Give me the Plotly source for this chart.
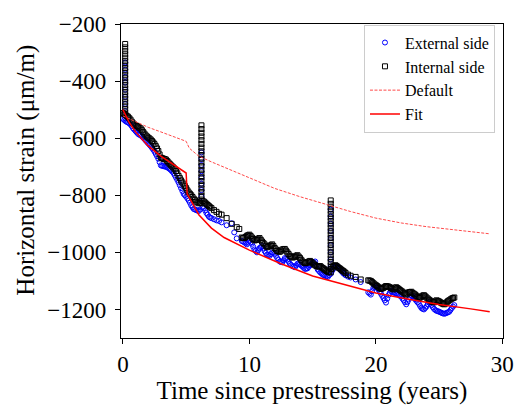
import plotly.graph_objects as go

# Internal side gauge readings (years, µm/m)
internal_t = [
    0.0, 0.1, 0.2, 0.3, 0.4, 0.5, 0.6, 0.7, 0.8, 0.9,
    1.0, 1.1, 1.2, 1.3, 1.4, 1.5, 1.6, 1.7, 1.8, 1.9,
    2.0, 2.1, 2.2, 2.3, 2.4, 2.5, 2.6, 2.7, 2.8, 2.9,
    3.0, 3.1, 3.2, 3.3, 3.4, 3.5, 3.6, 3.7, 3.8, 3.9,
    4.0, 4.1, 4.2, 4.3, 4.4, 4.5, 4.6, 4.7, 4.8, 4.9,
    5.0, 5.1, 5.2, 5.3, 5.4, 5.5, 5.6, 5.7, 5.8, 5.9,
    6.0, 6.1, 6.3, 6.4, 6.5, 6.6, 6.7, 6.8, 6.9,
    7.0, 7.2, 7.4, 7.6, 7.8, 8.2, 8.6, 9.0, 9.2, 9.4, 9.5, 9.6, 9.7,
    9.8, 9.9, 10.0, 10.1, 10.2, 10.3, 10.4, 10.5, 10.6, 10.7, 10.8, 10.9,
    11.0, 11.1, 11.2, 11.3, 11.4, 11.5, 11.6, 11.7, 11.8, 11.9,
    12.0, 12.1, 12.2, 12.3, 12.4, 12.5, 12.6, 12.7, 12.8, 12.9,
    13.0, 13.1, 13.2, 13.3, 13.4, 13.5, 13.6, 13.7, 13.8, 13.9,
    14.0, 14.1, 14.2, 14.3, 14.4, 14.5, 14.6, 14.7, 14.8, 14.9,
    15.0, 15.1, 15.2, 15.3, 15.4, 15.5, 15.6, 15.7, 15.8, 15.9,
    16.0, 16.1, 16.2, 16.3, 16.5, 16.6, 16.7, 16.8, 16.9,
    17.0, 17.1, 17.2, 17.3, 17.4, 17.5, 17.6, 17.8, 18.0, 18.4, 18.8,
    19.4, 19.5, 19.6, 19.7, 19.8, 19.9,
    20.0, 20.1, 20.2, 20.3, 20.4, 20.5, 20.6, 20.7, 20.8, 20.9,
    21.0, 21.1, 21.2, 21.3, 21.4, 21.5, 21.6, 21.7, 21.8, 21.9,
    22.0, 22.1, 22.2, 22.3, 22.4, 22.5, 22.6, 22.7, 22.8, 22.9,
    23.0, 23.1, 23.2, 23.3, 23.4, 23.5, 23.6, 23.7, 23.8, 23.9,
    24.0, 24.1, 24.2, 24.3, 24.4, 24.5, 24.6, 24.7, 24.8, 24.9,
    25.0, 25.1, 25.2, 25.3, 25.4, 25.5, 25.6, 25.7, 25.8, 25.9, 26.0, 26.1, 26.2,
]
internal_v = [
    -512, -515, -518, -522, -525, -530, -535, -542, -548, -552,
    -555, -557, -560, -563, -566, -572, -578, -584, -590, -594,
    -598, -601, -605, -610, -615, -621, -628, -636, -645, -657,
    -668, -670, -672, -673, -675, -680, -685, -690, -695, -699,
    -703, -709, -715, -723, -732, -740, -748, -755, -762, -768,
    -775, -783, -790, -795, -800, -806, -812, -817, -822, -825,
    -828, -826, -820, -822, -826, -830, -834, -838, -842,
    -845, -852, -858, -865, -868, -880, -900, -912, -918, -948, -950, -950, -946,
    -942, -940, -938, -943, -948, -953, -958, -957, -955, -952, -950, -956,
    -962, -967, -972, -977, -982, -980, -978, -975, -972, -978,
    -985, -990, -995, -997, -998, -994, -990, -989, -988, -994,
    -1000, -1006, -1012, -1015, -1018, -1017, -1015, -1012, -1010, -1015,
    -1020, -1026, -1032, -1035, -1038, -1037, -1035, -1032, -1030, -1034,
    -1038, -1042, -1045, -1048, -1050, -1049, -1048, -1052, -1055, -1058,
    -1062, -1065, -1068, -1070, -1058, -1050, -1047, -1045, -1048,
    -1052, -1055, -1058, -1062, -1065, -1068, -1072, -1078, -1082, -1086, -1095,
    -1098, -1099, -1100, -1104, -1108, -1112,
    -1115, -1118, -1122, -1125, -1128, -1126, -1124, -1121, -1118, -1119,
    -1120, -1122, -1125, -1128, -1130, -1126, -1122, -1125, -1128, -1132,
    -1135, -1138, -1142, -1145, -1148, -1144, -1140, -1139, -1138, -1142,
    -1145, -1148, -1152, -1156, -1160, -1158, -1155, -1152, -1150, -1154,
    -1158, -1162, -1166, -1169, -1172, -1174, -1175, -1172, -1168, -1170,
    -1172, -1175, -1178, -1180, -1182, -1179, -1175, -1171, -1168, -1165, -1162, -1160, -1158,
]

# External side gauge readings (years, µm/m)
external_t = [
    0.0, 0.1, 0.2, 0.3, 0.4, 0.5, 0.6, 0.7, 0.8, 0.9,
    1.0, 1.1, 1.2, 1.3, 1.4, 1.5, 1.6, 1.7, 1.8, 1.9,
    2.0, 2.1, 2.2, 2.3, 2.4, 2.5, 2.6, 2.7, 2.8, 2.9,
    3.0, 3.1, 3.2, 3.3, 3.4, 3.5, 3.6, 3.7, 3.8, 3.9,
    4.0, 4.1, 4.2, 4.3, 4.4, 4.5, 4.6, 4.7, 4.8, 4.9,
    5.0, 5.1, 5.2, 5.3, 5.4, 5.5, 5.6, 5.7, 5.8, 5.9,
    6.0, 6.1, 6.3, 6.4, 6.5, 6.6, 6.7, 6.8, 6.9,
    7.0, 7.2, 7.4, 7.6, 7.8, 8.2, 8.6, 8.8, 9.0, 9.4, 9.5, 9.6, 9.7,
    9.8, 9.9, 10.0, 10.1, 10.2, 10.3, 10.4, 10.5, 10.6, 10.7, 10.8, 10.9,
    11.0, 11.1, 11.2, 11.3, 11.4, 11.5, 11.6, 11.7, 11.8, 11.9,
    12.0, 12.1, 12.2, 12.3, 12.4, 12.5, 12.6, 12.7, 12.8, 12.9,
    13.0, 13.1, 13.2, 13.3, 13.4, 13.5, 13.6, 13.7, 13.8, 13.9,
    14.0, 14.1, 14.2, 14.3, 14.4, 14.5, 14.6, 14.7, 14.8, 14.9,
    15.0, 15.1, 15.2, 15.3, 15.4, 15.5, 15.6, 15.7, 15.8, 15.9,
    16.0, 16.1, 16.2, 16.3, 16.5, 16.6, 16.7, 16.8, 16.9,
    17.0, 17.1, 17.2, 17.3, 17.4, 17.5, 17.6, 17.8, 18.0, 18.4, 18.8,
    19.4, 19.5, 19.6, 19.7, 19.8, 19.9,
    20.0, 20.1, 20.2, 20.3, 20.4, 20.5, 20.6, 20.7, 20.8, 20.9,
    21.0, 21.1, 21.2, 21.3, 21.4, 21.5, 21.6, 21.7, 21.8, 21.9,
    22.0, 22.1, 22.2, 22.3, 22.4, 22.5, 22.6, 22.7, 22.8, 22.9,
    23.0, 23.1, 23.2, 23.3, 23.4, 23.5, 23.6, 23.7, 23.8, 23.9,
    24.0, 24.1, 24.2, 24.3, 24.4, 24.5, 24.6, 24.7, 24.8, 24.9,
    25.0, 25.1, 25.2, 25.3, 25.4, 25.5, 25.6, 25.7, 25.8, 25.9, 26.0, 26.1, 26.2,
]
external_v = [
    -532, -536, -540, -543, -545, -548, -552, -558, -565, -570,
    -575, -580, -585, -588, -590, -594, -598, -603, -608, -613,
    -618, -623, -628, -634, -640, -647, -655, -663, -672, -684,
    -695, -697, -698, -699, -700, -702, -705, -708, -712, -717,
    -722, -730, -738, -746, -755, -765, -775, -785, -795, -800,
    -805, -811, -818, -826, -835, -842, -848, -850, -852, -854,
    -855, -850, -842, -845, -853, -862, -868, -875, -878,
    -880, -884, -888, -890, -895, -905, -898, -930, -951, -960, -962, -965, -968,
    -972, -966, -960, -965, -970, -980, -990, -995, -1000, -992, -985, -982,
    -978, -986, -995, -1002, -1008, -1010, -1012, -1006, -1000, -1002,
    -1005, -1012, -1020, -1026, -1032, -1034, -1035, -1028, -1020, -1022,
    -1025, -1032, -1040, -1044, -1048, -1050, -1052, -1046, -1040, -1041,
    -1042, -1046, -1050, -1054, -1058, -1057, -1056, -1050, -1045, -1042,
    -1038, -1035, -1032, -1046, -1060, -1065, -1070, -1074, -1078, -1080,
    -1082, -1084, -1086, -1080, -1068, -1060, -1054, -1048, -1049,
    -1050, -1056, -1062, -1067, -1072, -1076, -1080, -1085, -1088, -1095, -1104,
    -1140, -1144, -1148, -1136, -1125, -1121,
    -1118, -1124, -1130, -1138, -1145, -1152, -1160, -1168, -1176, -1162,
    -1150, -1142, -1135, -1138, -1140, -1142, -1145, -1146, -1148, -1152,
    -1155, -1162, -1168, -1175, -1182, -1174, -1165, -1158, -1150, -1154,
    -1158, -1164, -1170, -1175, -1180, -1188, -1195, -1198, -1200, -1195,
    -1190, -1182, -1175, -1180, -1185, -1192, -1198, -1202, -1205, -1206,
    -1208, -1210, -1212, -1214, -1215, -1214, -1212, -1210, -1208, -1202, -1195, -1190, -1185,
]

# Short bursts of readings logged at single instants
burst_times = [0.18, 6.21, 16.43]
internal_burst = [
    [-270, -282, -294, -306, -318, -330, -342, -354, -366, -378, -390, -402, -414, -426,
     -438, -450, -462, -474, -486, -498, -510],
    [-555, -568, -581, -594, -607, -620, -633, -646, -659, -672, -685, -698, -711, -724,
     -737, -750, -763, -776, -789, -802, -815, -828],
    [-818, -830, -842, -854, -866, -878, -890, -902, -914, -926, -938, -950, -962, -974,
     -986, -998, -1010, -1022, -1034, -1046, -1058, -1070],
]
external_burst = [
    [-335, -360, -385, -405, -430, -455, -480, -505, -530],
    [-650, -672, -694, -716, -738, -760, -782, -805],
    [-850, -875, -900, -925, -950, -975, -1000, -1025, -1050, -1075],
]

# Creep model curves
default_t = [0, 1, 2, 3, 4, 5, 5.25, 6, 7, 8, 10, 12, 14, 16, 18, 20, 22, 24, 26, 28, 29]
default_v = [-522, -542, -562, -578, -594, -611, -635, -663, -683, -702, -740, -776, -805,
             -831, -857, -880, -897, -910, -921, -930, -935]
fit_t = [0, 0.5, 1, 2, 3, 4, 5, 5.08, 6, 7, 8, 10, 12.5, 15, 17.5, 20, 22.5, 25, 27.5, 29]
fit_v = [-500, -545, -578, -627, -663, -693, -722, -795, -868, -915, -948, -992, -1040,
         -1083, -1112, -1142, -1163, -1183, -1198, -1208]

# Merge the bursts into each gauge series
ext_x, ext_y = list(external_t), list(external_v)
int_x, int_y = list(internal_t), list(internal_v)
for tb, vals in zip(burst_times, external_burst):
    ext_x += [tb] * len(vals)
    ext_y += vals
for tb, vals in zip(burst_times, internal_burst):
    int_x += [tb] * len(vals)
    int_y += vals

serif = "Liberation Serif, Times New Roman, serif"

fig = go.Figure()
fig.add_trace(go.Scatter(
    x=ext_x, y=ext_y, mode="markers", name="External side",
    marker=dict(symbol="circle-open", size=5, color="#0000ff", line=dict(width=1, color="#0000ff")),
))
fig.add_trace(go.Scatter(
    x=int_x, y=int_y, mode="markers", name="Internal side",
    marker=dict(symbol="square-open", size=5, color="#000000", line=dict(width=1, color="#000000")),
))
fig.add_trace(go.Scatter(
    x=default_t, y=default_v, mode="lines", name="Default",
    line=dict(color="#ff4a4a", width=1, dash="3px,1.5px"),
))
fig.add_trace(go.Scatter(
    x=fit_t, y=fit_v, mode="lines", name="Fit",
    line=dict(color="#ff0000", width=1.5),
))

axis_common = dict(
    showline=True, linecolor="black", linewidth=1.2, mirror=True,
    ticks="outside", ticklen=5, tickwidth=1, tickcolor="black",
    showgrid=False, zeroline=False,
    tickfont=dict(family=serif, size=23, color="black"),
)

fig.update_layout(
    width=526, height=410,
    margin=dict(l=121, r=18, t=19, b=67),
    paper_bgcolor="white", plot_bgcolor="white",
    font=dict(family=serif, color="black"),
    showlegend=True,
    legend=dict(
        x=0.979, y=0.998, xanchor="right", yanchor="top",
        bgcolor="rgba(255,255,255,0.8)", bordercolor="#cccccc", borderwidth=1,
        font=dict(family=serif, size=16, color="black"),
        tracegroupgap=0, itemwidth=30,
    ),
    xaxis=dict(
        range=[-0.15, 30.05], tickvals=[0, 10, 20, 30],
        title=dict(text="Time since prestressing (years)", font=dict(family=serif, size=25), standoff=4),
        **axis_common,
    ),
    yaxis=dict(
        range=[-1300, -200], tickvals=[-1200, -1000, -800, -600, -400, -200],
        ticklabelstandoff=4,
        **axis_common,
    ),
    annotations=[dict(
        text="Horizontal strain (μm/m)", textangle=-90,
        xref="paper", yref="paper", x=0, y=0.533, xanchor="center", yanchor="middle",
        xshift=-95, showarrow=False, font=dict(family=serif, size=25, color="black"),
    )],
)

fig.write_html("out.html")
